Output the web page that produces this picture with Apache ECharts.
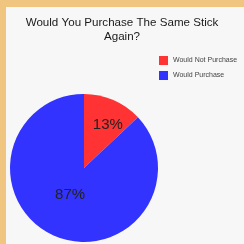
<!DOCTYPE html>
<html>
<head>
    <meta charset="utf-8">
    <script src="https://cdn.jsdelivr.net/npm/echarts@6/dist/echarts.min.js"></script>
    <title>Stick</title>
    <style>
        html, body { margin: 0; padding: 0; background: #f0c580; }
    </style>
</head>
<body>
    <div id="main" style="width:244px;height:244px;"></div>
    <script type="text/javascript">
        var titleText = 'Would You Purchase The Same Stick\nAgain?';
        var categories = ['Would Not Purchase', 'Would Purchase'];
        var values = [13, 87];
        var colors = ['#ff3333', '#3333ff'];

        // nudges so the labels sit where the original put them
        var labelShift = [[8, -6], [2, -10]];

        var myChart = echarts.init(document.getElementById('main'));

        var option = {
            animation: false,
            backgroundColor: '#f0c580',
            graphic: [{
                type: 'rect',
                shape: { x: 6, y: 7, width: 238, height: 237 },
                style: { fill: '#f7f7f7' },
                z: -10
            }],
            title: {
                text: titleText,
                left: 'center',
                top: 11,
                textStyle: {
                    fontFamily: 'Liberation Sans, Arial, sans-serif',
                    fontSize: 11.6,
                    fontWeight: 'normal',
                    color: '#1a1a1a',
                    lineHeight: 14
                }
            },
            legend: {
                orient: 'vertical',
                left: 154,
                top: 51,
                itemWidth: 9,
                itemHeight: 9,
                itemGap: 6,
                icon: 'rect',
                data: categories,
                textStyle: {
                    fontFamily: 'Liberation Sans, Arial, sans-serif',
                    fontSize: 7,
                    color: '#444'
                }
            },
            series: [{
                type: 'pie',
                center: [84, 168],
                radius: 74,
                startAngle: 90,
                clockwise: true,
                silent: true,
                label: {
                    position: 'inside',
                    formatter: '{d}%',
                    fontFamily: 'Liberation Sans, Arial, sans-serif',
                    fontSize: 15,
                    color: '#222'
                },
                labelLine: { show: false },
                labelLayout: function (params) {
                    var s = labelShift[params.dataIndex];
                    return { dx: s[0], dy: s[1] };
                },
                itemStyle: { borderWidth: 0 },
                data: categories.map(function (name, i) {
                    return { name: name, value: values[i], itemStyle: { color: colors[i] } };
                })
            }]
        };

        myChart.setOption(option);
    </script>
</body>
</html>
